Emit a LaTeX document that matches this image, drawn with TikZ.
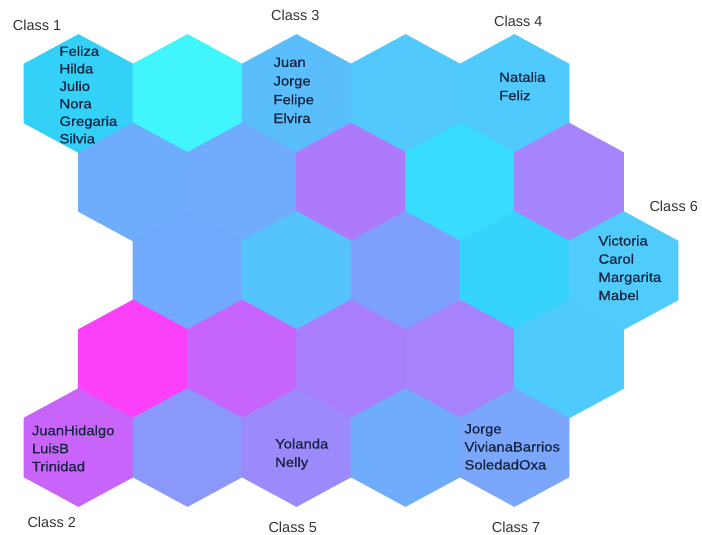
\documentclass[tikz,border=0pt]{standalone}
\usepackage{fontspec}
\setmainfont{Liberation Sans}
\newfontfamily\namefont[FakeStretch=1.1,FakeBold=0.7]{Liberation Sans}
\definecolor{labgray}{HTML}{333333}
\definecolor{nametxt}{HTML}{172440}
% row 1
\definecolor{hA1}{HTML}{33D1F8}
\definecolor{hA2}{HTML}{40F5FC}
\definecolor{hA3}{HTML}{5ABEFC}
\definecolor{hA4}{HTML}{52C8FC}
\definecolor{hA5}{HTML}{50C9FC}
% row 2
\definecolor{hB1}{HTML}{6EACFC}
\definecolor{hB2}{HTML}{70ABFC}
\definecolor{hB3}{HTML}{AE7AFC}
\definecolor{hB4}{HTML}{38DCFC}
\definecolor{hB5}{HTML}{A684FC}
% row 3
\definecolor{hC1}{HTML}{71AAFC}
\definecolor{hC2}{HTML}{56C4FC}
\definecolor{hC3}{HTML}{7CA0FC}
\definecolor{hC4}{HTML}{36D4FC}
\definecolor{hC5}{HTML}{4FCBFC}
% row 4
\definecolor{hD1}{HTML}{FA40F8}
\definecolor{hD2}{HTML}{C664FC}
\definecolor{hD3}{HTML}{A87EFC}
\definecolor{hD4}{HTML}{A682FC}
\definecolor{hD5}{HTML}{4FCAFC}
% row 5
\definecolor{hE1}{HTML}{C864FA}
\definecolor{hE2}{HTML}{8A98FC}
\definecolor{hE3}{HTML}{9C8AFC}
\definecolor{hE4}{HTML}{70ACFC}
\definecolor{hE5}{HTML}{7AA6FC}
\newcommand{\hexcell}[3]{%
  \fill[fill=#3, draw=#3, line width=0.6pt] (#1,#2) ++(0,-59) -- ++(54.5,29.5) -- ++(0,59) -- ++(-54.5,29.5) -- ++(-54.5,-29.5) -- ++(0,-59) -- cycle;}
\begin{document}
\begin{tikzpicture}[x=1pt, y=-1pt,
  classlab/.style={font=\fontsize{14.5}{17}\selectfont, text=labgray, inner sep=0pt, anchor=base west},
  namelist/.style={font=\namefont\fontsize{13.5}{#1}\selectfont, text=nametxt, inner sep=0pt, anchor=north west, align=left},
  namelist/.default=18.3]
\useasboundingbox (0,0) rectangle (702,535);
% row 1 (y = 93.5)
\hexcell{78.5}{93.5}{hA1}
\hexcell{187.5}{93.5}{hA2}
\hexcell{296.5}{93.5}{hA3}
\hexcell{405.5}{93.5}{hA4}
\hexcell{514.5}{93.5}{hA5}
% row 2 (y = 182)
\hexcell{133}{182}{hB1}
\hexcell{242}{182}{hB2}
\hexcell{351}{182}{hB3}
\hexcell{460}{182}{hB4}
\hexcell{569}{182}{hB5}
% row 3 (y = 270.5)
\hexcell{187.5}{270.5}{hC1}
\hexcell{296.5}{270.5}{hC2}
\hexcell{405.5}{270.5}{hC3}
\hexcell{514.5}{270.5}{hC4}
\hexcell{623.5}{270.5}{hC5}
% row 4 (y = 359)
\hexcell{133}{359}{hD1}
\hexcell{242}{359}{hD2}
\hexcell{351}{359}{hD3}
\hexcell{460}{359}{hD4}
\hexcell{569}{359}{hD5}
% row 5 (y = 447.5)
\hexcell{78.5}{447.5}{hE1}
\hexcell{187.5}{447.5}{hE2}
\hexcell{296.5}{447.5}{hE3}
\hexcell{405.5}{447.5}{hE4}
\hexcell{514.5}{447.5}{hE5}
% class labels
\node[classlab] (c1) at (12.7,31) {Class 1};
\node[classlab] (c3) at (271,21) {Class 3};
\node[classlab] (c4) at (494,26.7) {Class 4};
\node[classlab] (c6) at (649.3,211.7) {Class 6};
\node[classlab] (c2) at (27.3,527.5) {Class 2};
\node[classlab] (c5) at (268.3,532.5) {Class 5};
\node[classlab] (c7) at (491.7,532.3) {Class 7};
% name lists (top = first baseline - 10)
\node[namelist=17.5] (n1) at (59.3,45.7) {\rule{0pt}{10pt}Feliza\\Hilda\\Julio\\Nora\\Gregaria\\Silvia};
\node[namelist=18.7] (n3) at (273.3,56.7) {\rule{0pt}{10pt}Juan\\Jorge\\Felipe\\Elvira};
\node[namelist=18.3] (n4) at (499,71.7) {\rule{0pt}{10pt}Natalia\\Feliz};
\node[namelist=18.2] (n6) at (598.3,235.3) {\rule{0pt}{10pt}Victoria\\Carol\\Margarita\\Mabel};
\node[namelist=18] (n2) at (31.7,425) {\rule{0pt}{10pt}JuanHidalgo\\LuisB\\Trinidad};
\node[namelist=18.4] (n5) at (275,438.3) {\rule{0pt}{10pt}Yolanda\\Nelly};
\node[namelist=18] (n7) at (464.3,423.3) {\rule{0pt}{10pt}Jorge\\VivianaBarrios\\SoledadOxa};
\end{tikzpicture}
\end{document}
